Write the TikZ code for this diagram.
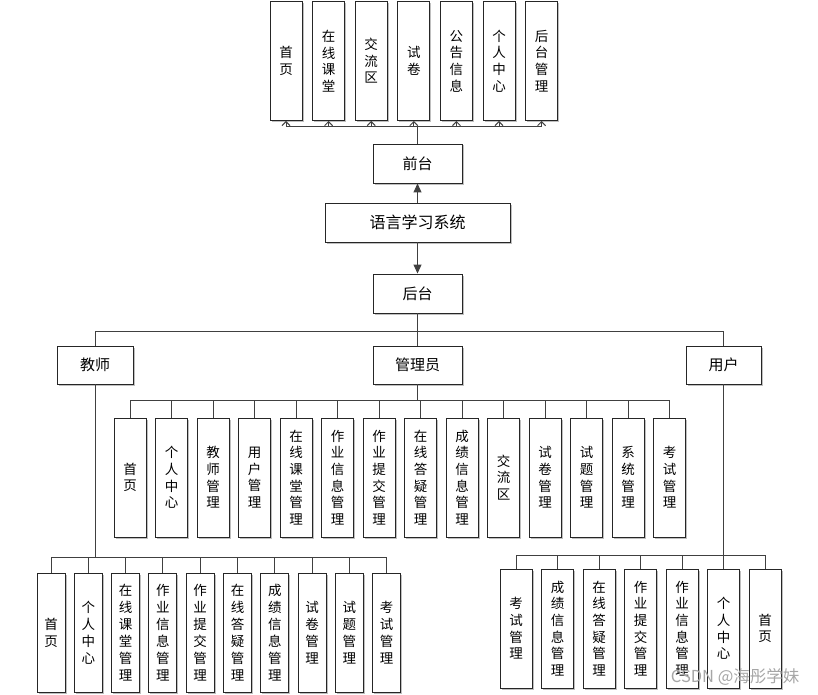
\documentclass[tikz,border=0pt]{standalone}
\usepackage{fontspec}
\setmainfont{Noto Sans CJK SC}
\usetikzlibrary{arrows.meta,shadows}
\begin{document}
\begin{tikzpicture}[x=1pt,y=-1pt,
  box/.style={draw=black!85, line width=0.9pt, fill=white, inner sep=0pt,
    drop shadow={shadow xshift=1.5pt, shadow yshift=-1.5pt, fill=black, opacity=0.25},
    font=\fontsize{13.5}{16.6}\selectfont, align=center},
  hbox/.style={box, minimum width=89pt, minimum height=39pt},
  vbox/.style={box, minimum width=32pt, minimum height=119pt},
  nbox/.style={box, minimum width=28pt, minimum height=119pt, font=\fontsize{13.5}{17}\selectfont},
  link/.style={draw=black!75, line width=1pt},
  uparrow/.style={link, -{Straight Barb[length=4pt,width=8pt]}},
  bigarrow/.style={link, -{Triangle[length=9pt,width=8pt]}}
]
\useasboundingbox (0,0) rectangle (818,695);

% main column
\node[hbox, minimum width=185pt, font=\fontsize{16}{18}\selectfont] (sys) at (417.5,222.5) {语言学习系统};
\node[hbox, font=\fontsize{15}{17}\selectfont] (qt) at (417.5,163.5) {前台};
\node[hbox, font=\fontsize{15}{17}\selectfont] (ht) at (417.5,293.5) {后台};
\draw[bigarrow] (sys.north) -- (qt.south);
\draw[bigarrow] (sys.south) -- (ht.north);

% front-end children
\foreach \t [count=\i from 0] in {{首\\页},{在\\线\\课\\堂},{交\\流\\区},{试\\卷},{公\\告\\信\\息},{个\\人\\中\\心},{后\\台\\管\\理}}{
  \node[vbox] (t\i) at (286+42.6*\i,61) {\t};
  \draw[uparrow] (qt.north) -- ++(0,-17) -| (t\i.south);
}

% roles
\node[hbox, minimum width=76pt, minimum height=38pt, font=\fontsize{15}{17}\selectfont] (js) at (95,365) {教师};
\node[hbox, minimum height=38pt, font=\fontsize{15}{17}\selectfont] (gl) at (417.5,365) {管理员};
\node[hbox, minimum width=75pt, minimum height=38pt, font=\fontsize{15}{17}\selectfont] (yh) at (723.5,365) {用户};
\draw[link] (ht.south) -- (gl.north);
\draw[link] (ht.south) -- ++(0,18) -| (js.north);
\draw[link] (ht.south) -- ++(0,18) -| (yh.north);

% admin children
\foreach \t [count=\i from 0] in {{首\\页},{个\\人\\中\\心},{教\\师\\管\\理},{用\\户\\管\\理},{在\\线\\课\\堂\\管\\理},{作\\业\\信\\息\\管\\理},{作\\业\\提\\交\\管\\理},{在\\线\\答\\疑\\管\\理},{成\\绩\\信\\息\\管\\理},{交\\流\\区},{试\\卷\\管\\理},{试\\题\\管\\理},{系\\统\\管\\理},{考\\试\\管\\理}}{
  \node[vbox] (a\i) at (130+41.5*\i,477.5) {\t};
  \draw[link] (gl.south) -- ++(0,16) -| (a\i.north);
}

% teacher children
\foreach \t [count=\i from 0] in {{首\\页},{个\\人\\中\\心},{在\\线\\课\\堂\\管\\理},{作\\业\\信\\息\\管\\理},{作\\业\\提\\交\\管\\理},{在\\线\\答\\疑\\管\\理},{成\\绩\\信\\息\\管\\理},{试\\卷\\管\\理},{试\\题\\管\\理},{考\\试\\管\\理}}{
  \node[nbox] (c\i) at (51+37.3*\i,632.5) {\t};
  \draw[link] (js.south) -- ++(0,173) -| (c\i.north);
}

% user children
\foreach \t [count=\i from 0] in {{考\\试\\管\\理},{成\\绩\\信\\息\\管\\理},{在\\线\\答\\疑\\管\\理},{作\\业\\提\\交\\管\\理},{作\\业\\信\\息\\管\\理},{个\\人\\中\\心},{首\\页}}{
  \node[vbox] (u\i) at (516+41.5*\i,628.5) {\t};
  \draw[link] (yh.south) -- ++(0,171) -| (u\i.north);
}

% watermark
\node[font=\fontsize{16.5}{17}\selectfont, text=black!35, anchor=east] (wm) at (803,677) {CSDN @海彤学妹};
\end{tikzpicture}
\end{document}
